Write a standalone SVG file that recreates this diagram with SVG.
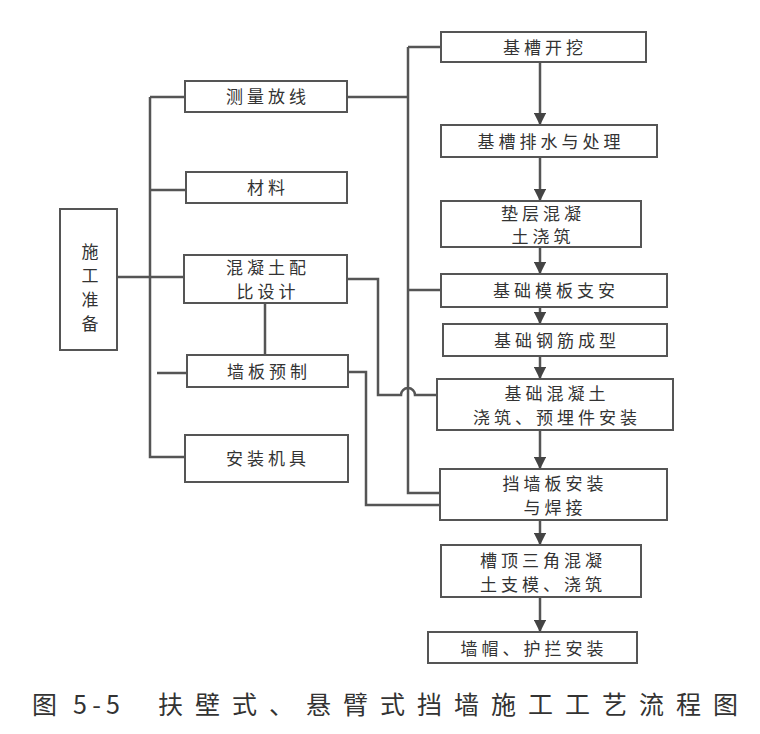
<svg xmlns="http://www.w3.org/2000/svg" width="760" height="734" viewBox="0 0 760 734">
<defs>
<marker id="ah" viewBox="0 0 10 10" refX="9" refY="5" markerWidth="5" markerHeight="5" orient="auto"><path d="M0,0L10,5L0,10z" fill="#444"/></marker>
<style>
.b{fill:#fff;stroke:#555;stroke-width:2}
.t{font-family:"Noto Sans CJK SC",sans-serif;font-size:17px;fill:#333;text-anchor:middle;letter-spacing:4px}
.c{fill:none;stroke:#555;stroke-width:2.5}
.a{fill:none;stroke:#555;stroke-width:2.5;marker-end:url(#ah)}
.cap{font-family:"Noto Sans CJK SC",sans-serif;font-size:25px;fill:#333}
</style>
</defs>
<rect width="760" height="734" fill="#fff"/>
<g id="connectors">
<path class="c" d="M117,277H184M150,97V457H185M150,97H185M150,190H186M157,373H187M265,303V355"/>
<path class="c" d="M347,97H408M408,47V493H440M408,47H441M408,290H441"/>
<path class="c" d="M347,279H378V395H401A7,7 0 0 1 415,395H437"/>
<path class="c" d="M348,372H366V505H440"/>
<path class="a" d="M540,62V124"/>
<path class="a" d="M540,157V200"/>
<path class="a" d="M540,247V273"/>
<path class="a" d="M540,307V323"/>
<path class="a" d="M540,356V378"/>
<path class="a" d="M540,430V468"/>
<path class="a" d="M540,520V544"/>
<path class="a" d="M540,597V631"/>
</g>
<g id="n1"><rect class="b" x="60" y="209" width="57" height="141"/><text class="t" x="90" y="258" style="letter-spacing:0">施</text><text class="t" x="90" y="282" style="letter-spacing:0">工</text><text class="t" x="90" y="306" style="letter-spacing:0">准</text><text class="t" x="90" y="330" style="letter-spacing:0">备</text></g>
<g id="n2"><rect class="b" x="185" y="81" width="162" height="31"/><text class="t" x="268" y="103">测量放线</text></g>
<g id="n3"><rect class="b" x="186" y="172" width="161" height="31"/><text class="t" x="268" y="194">材料</text></g>
<g id="n4"><rect class="b" x="184" y="255" width="163" height="48"/><text class="t" x="268" y="274">混凝土配</text><text class="t" x="268" y="298">比设计</text></g>
<g id="n5"><rect class="b" x="187" y="355" width="161" height="32"/><text class="t" x="269" y="378">墙板预制</text></g>
<g id="n6"><rect class="b" x="185" y="435" width="163" height="47"/><text class="t" x="268" y="465">安装机具</text></g>
<g id="r1"><rect class="b" x="441" y="32" width="205" height="30"/><text class="t" x="545" y="54">基槽开挖</text></g>
<g id="r2"><rect class="b" x="441" y="125" width="216" height="32"/><text class="t" x="551" y="148">基槽排水与处理</text></g>
<g id="r3"><rect class="b" x="441" y="201" width="200" height="46"/><text class="t" x="543" y="220">垫层混凝</text><text class="t" x="543" y="243">土浇筑</text></g>
<g id="r4"><rect class="b" x="441" y="274" width="226" height="33"/><text class="t" x="556" y="297">基础模板支安</text></g>
<g id="r5"><rect class="b" x="443" y="324" width="224" height="32"/><text class="t" x="557" y="347">基础钢筋成型</text></g>
<g id="r6"><rect class="b" x="437" y="379" width="236" height="51"/><text class="t" x="557" y="400">基础混凝土</text><text class="t" x="557" y="424">浇筑、预埋件安装</text></g>
<g id="r7"><rect class="b" x="440" y="469" width="227" height="51"/><text class="t" x="555" y="490">挡墙板安装</text><text class="t" x="555" y="514">与焊接</text></g>
<g id="r8"><rect class="b" x="441" y="545" width="200" height="52"/><text class="t" x="543" y="567">槽顶三角混凝</text><text class="t" x="543" y="591">土支模、浇筑</text></g>
<g id="r9"><rect class="b" x="428" y="632" width="209" height="31"/><text class="t" x="534" y="655">墙帽、护拦安装</text></g>
<text class="cap" x="32" y="714" textLength="88">图 5-5</text>
<text class="cap" x="158" y="714" textLength="580" lengthAdjust="spacing">扶壁式、悬臂式挡墙施工工艺流程图</text>
</svg>
